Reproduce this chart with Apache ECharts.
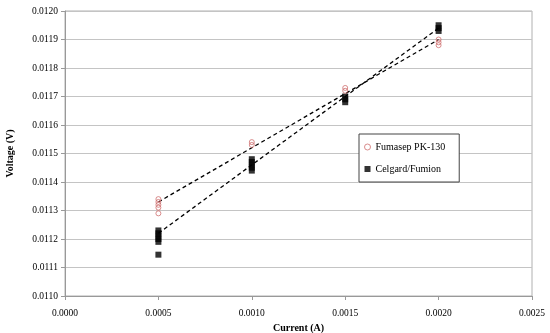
<!DOCTYPE html>
<html><head><meta charset="utf-8">
<script src="https://cdn.jsdelivr.net/npm/echarts@6/dist/echarts.min.js"></script>
<style>html,body{margin:0;padding:0;background:#fff}#c{width:550px;height:333px}</style>
</head><body><div id="c"></div>
<script>
// Current (A) for each measurement group
const currents = [0.0005, 0.0010, 0.0015, 0.0020];
// Fumasep PK-130 voltages (V) per current
const fumasep0005 = [0.01134, 0.01133, 0.01132, 0.01131, 0.01129];
const fumasep0010 = [0.01154, 0.01153];
const fumasep0015 = [0.01173, 0.01172];
const fumasep0020 = [0.01190, 0.01189, 0.01188];
// Celgard/Fumion voltages (V) per current
const celgard0005 = [0.01123, 0.01122, 0.01121, 0.01120, 0.01119, 0.011145];
const celgard0010 = [0.01148, 0.01147, 0.01146, 0.01145, 0.01144];
const celgard0015 = [0.01170, 0.01169, 0.01168];
const celgard0020 = [0.01195, 0.01194, 0.01193];
// Trend line endpoints
const trendX = [0.0005, 0.0020];
const fumasepTrend = [0.01133, 0.01190];
const celgardTrend = [0.01122, 0.01194];

const xTicks = [0, 0.0005, 0.0010, 0.0015, 0.0020, 0.0025];
const yTicks = [0.0110, 0.0111, 0.0112, 0.0113, 0.0114, 0.0115, 0.0116, 0.0117, 0.0118, 0.0119, 0.0120];

function pts(groups) {
  const out = [];
  groups.forEach((g, i) => g.forEach(v => out.push([currents[i], v])));
  return out;
}
const fumasepPts = pts([fumasep0005, fumasep0010, fumasep0015, fumasep0020]);
const celgardPts = pts([celgard0005, celgard0010, celgard0015, celgard0020]);

const font = 'Liberation Serif';
const chart = echarts.init(document.getElementById('c'), null, {renderer: 'canvas'});
chart.setOption({
  animation: false,
  backgroundColor: '#fff',
  grid: {left: 65, right: 18, top: 11, bottom: 37, show: true, borderColor: '#b0b0b0', borderWidth: 1,
         containLabel: false, outerBoundsMode: 'none'},
  xAxis: {
    type: 'value', min: xTicks[0], max: xTicks[xTicks.length - 1], interval: 0.0005,
    name: 'Current (A)', nameLocation: 'middle', nameGap: 27,
    nameTextStyle: {fontFamily: font, fontWeight: 'bold', fontSize: 10, color: '#000'},
    axisLine: {lineStyle: {color: '#999'}},
    axisTick: {show: true, length: 4, lineStyle: {color: '#999'}},
    axisLabel: {fontFamily: font, fontSize: 9.5, color: '#000', margin: 12, formatter: v => v.toFixed(4)},
    splitLine: {show: false}
  },
  yAxis: {
    type: 'value', min: yTicks[0], max: yTicks[yTicks.length - 1], interval: 0.0001,
    name: 'Voltage (V)', nameLocation: 'middle', nameGap: 50,
    nameTextStyle: {fontFamily: font, fontWeight: 'bold', fontSize: 10, color: '#000'},
    axisLine: {show: true, lineStyle: {color: '#999'}},
    axisTick: {show: true, length: 4, lineStyle: {color: '#999'}},
    axisLabel: {fontFamily: font, fontSize: 9.5, color: '#000', margin: 7, formatter: v => v.toFixed(4)},
    splitLine: {show: true, lineStyle: {color: '#c4c4c4', width: 1}}
  },
  legend: {
    orient: 'vertical', left: 359, top: 134, width: 101,
    padding: [8, 14, 8, 5], itemGap: 12, itemWidth: 6, itemHeight: 6,
    backgroundColor: '#fff', borderColor: '#444', borderWidth: 1,
    textStyle: {fontFamily: font, fontSize: 10, color: '#000'},
    data: [
      {name: 'Fumasep PK-130', icon: 'circle', itemStyle: {color: '#fff', borderColor: '#d07070', borderWidth: 1}},
      {name: 'Celgard/Fumion', icon: 'rect', itemStyle: {color: '#000'}}
    ]
  },
  series: [
    {name: 'Fumasep trend', type: 'line', data: trendX.map((x, i) => [x, fumasepTrend[i]]),
     symbol: 'none', lineStyle: {color: '#000', width: 1.3, type: [4, 3]}, z: 1},
    {name: 'Celgard trend', type: 'line', data: trendX.map((x, i) => [x, celgardTrend[i]]),
     symbol: 'none', lineStyle: {color: '#000', width: 1.3, type: [4, 3]}, z: 1},
    {name: 'Celgard/Fumion', type: 'scatter', data: celgardPts, symbol: 'rect', symbolSize: 6,
     itemStyle: {color: '#000'}, z: 2},
    {name: 'Fumasep PK-130', type: 'scatter', data: fumasepPts, symbol: 'circle', symbolSize: 5,
     itemStyle: {color: 'rgba(255,255,255,0)', borderColor: '#d07070', borderWidth: 1}, z: 3}
  ]
});
</script></body></html>
